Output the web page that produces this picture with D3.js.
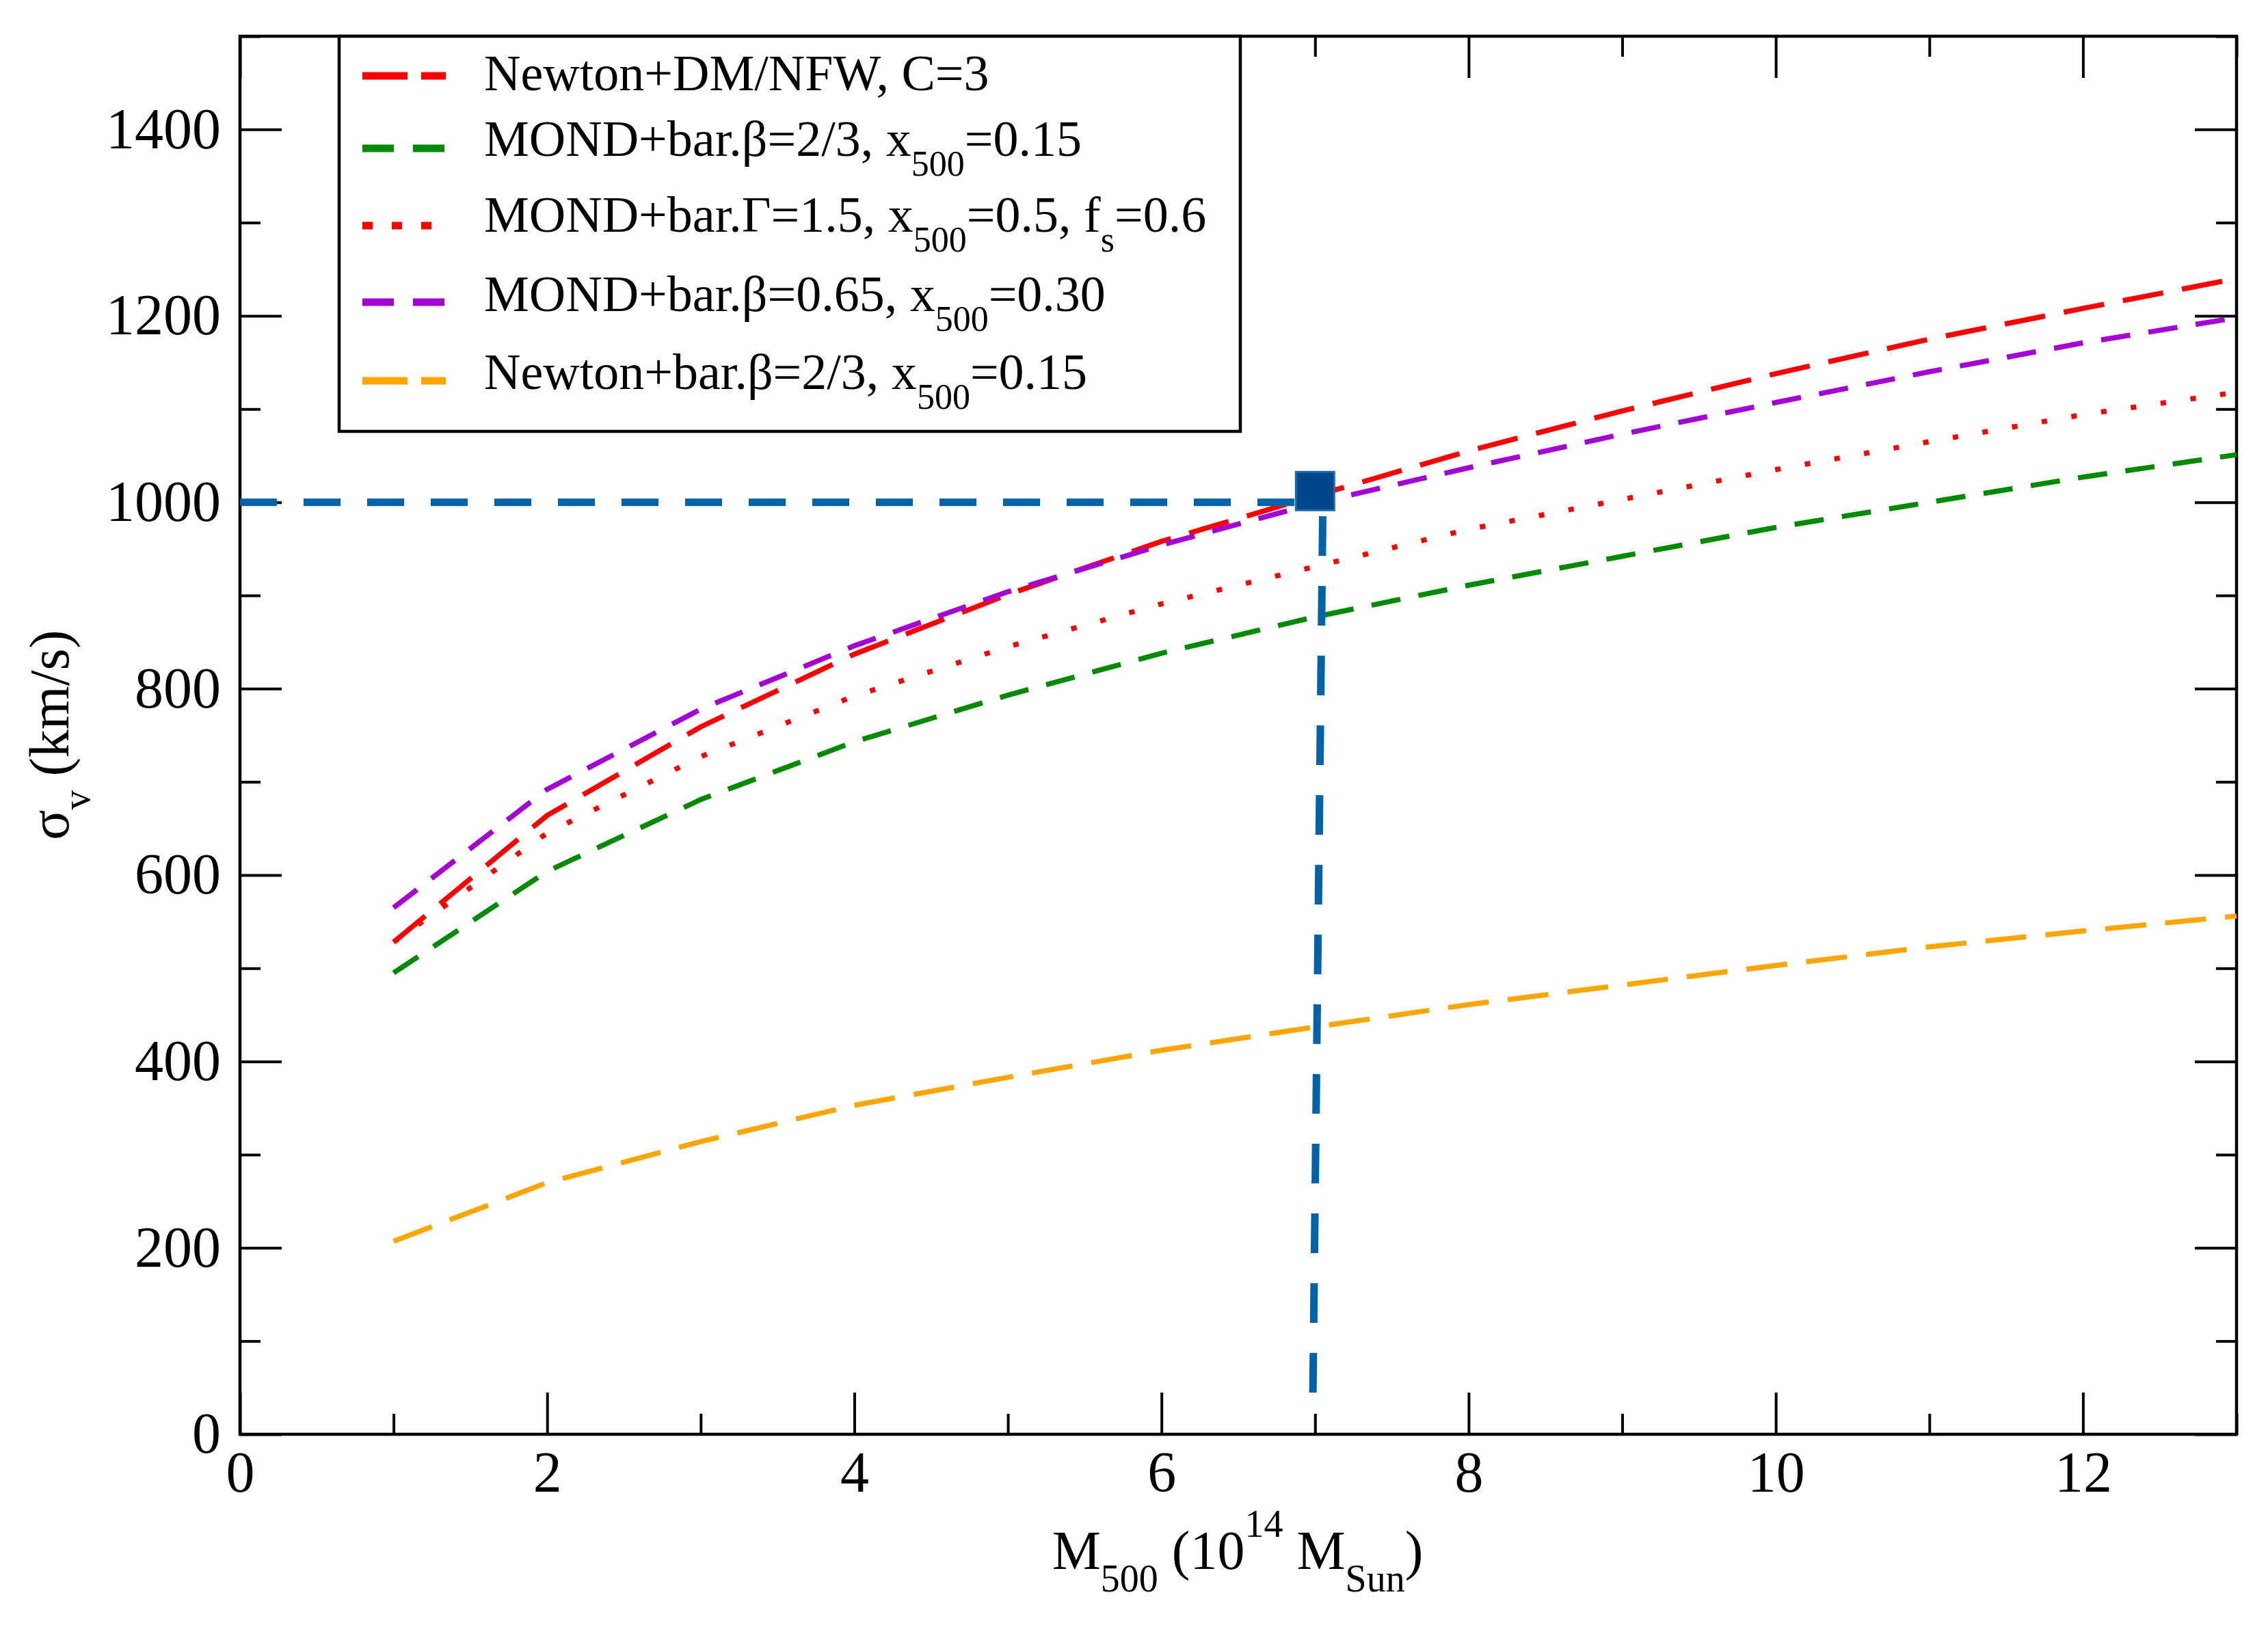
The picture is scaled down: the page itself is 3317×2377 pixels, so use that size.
<!DOCTYPE html>
<html>
<head>
<meta charset="utf-8">
<script src="https://cdn.jsdelivr.net/npm/d3@7"></script>
<style>
  body { margin: 0; background: #fff; }
  text { font-family: "Liberation Serif", "Times New Roman", serif; fill: #000; }
</style>
</head>
<body>
<div id="chart"></div>
<script>
// values, sigma_v (km/s) at each M500
var mass       = [1, 2, 3, 4, 5, 6, 7, 8, 9, 10, 11, 12, 13];
var newtonDM   = [528, 664, 759, 837, 901, 958, 1007, 1055, 1098, 1138, 1175, 1208, 1240];
var mondBeta23 = [495, 604, 681, 743, 793, 838, 877, 911, 942, 973, 1000, 1027, 1051];
var mondGamma  = [528, 645, 727, 792, 845, 891, 931, 971, 1003, 1035, 1065, 1094, 1118];
var mondBeta65 = [565, 692, 778, 846, 904, 954, 999, 1037, 1073, 1107, 1140, 1171, 1198];
var newtonBar  = [207, 270, 314, 353, 383, 412, 437, 461, 482, 503, 523, 540, 556];

var xTicks = [0, 2, 4, 6, 8, 10, 12];
var yTicks = [0, 200, 400, 600, 800, 1000, 1200, 1400];

// legend labels: [text, isSubscript]
var legendLabels = [
  [["Newton+DM/NFW, C=3", 0]],
  [["MOND+bar.\u03b2=2/3, x", 0], ["500", 1], ["=0.15", 0]],
  [["MOND+bar.\u0393=1.5, x", 0], ["500", 1], ["=0.5, f", 0], ["s", 1], ["=0.6", 0]],
  [["MOND+bar.\u03b2=0.65, x", 0], ["500", 1], ["=0.30", 0]],
  [["Newton+bar.\u03b2=2/3, x", 0], ["500", 1], ["=0.15", 0]]
];

// the highlighted cluster and its guide lines
var markM = 7, markSigma = 1012;
var hGuide = [[0, 1000], [6.9, 1000]];
var vGuide = [[7.05, 985], [6.985, 30]];

var W = 3317, H = 2377;
var svg = d3.select("#chart").append("svg")
  .attr("width", W)
  .attr("height", H);

var x = d3.scaleLinear().domain([0, 13]).range([351, 3271]);
var y = d3.scaleLinear().domain([0, 1500]).range([2098, 53]);

var series = [
  {vals: newtonDM,   color: "#ff0000", dash: "60,28", ldash: "66,20"},
  {vals: mondBeta23, color: "#008a00", dash: "43,27", ldash: "46,28"},
  {vals: mondGamma,  color: "#ff0000", dash: "8,36",  ldash: "15,28"},
  {vals: mondBeta65, color: "#a400d6", dash: "43,27", ldash: "46,28"},
  {vals: newtonBar,  color: "#ffa500", dash: "60,28", ldash: "66,20"}
];

// axes: ticks inward on all four sides, major every 2 / 200
var tickFont = 84;
function styleTicks(g, isMajor, sign, attr) {
  g.select(".domain").remove();
  g.selectAll(".tick line")
    .attr(attr, function(d){ return sign * (isMajor(d) ? 61 : 30); })
    .attr("stroke", "#000")
    .attr("stroke-width", 4);
  g.selectAll(".tick text")
    .attr("font-size", tickFont)
    .attr("font-family", "Liberation Serif, serif");
}
var xMajor = function(d){ return d % 2 === 0; };
var yMajor = function(d){ return d % 200 === 0; };

svg.append("g")
  .attr("transform", "translate(0,2098)")
  .call(d3.axisBottom(x).tickValues(d3.range(0, 14, 1)).tickSize(-61).tickPadding(24)
    .tickFormat(function(d){ return xTicks.indexOf(d) >= 0 ? d : ""; }))
  .call(styleTicks, xMajor, -1, "y2");

svg.append("g")
  .attr("transform", "translate(0,53)")
  .call(d3.axisTop(x).tickValues(d3.range(0, 14, 1)).tickSize(-61).tickFormat(""))
  .call(styleTicks, xMajor, 1, "y2");

svg.append("g")
  .attr("transform", "translate(351,0)")
  .call(d3.axisLeft(y).tickValues(d3.range(0, 1501, 100)).tickSize(-61).tickPadding(28)
    .tickFormat(function(d){ return yTicks.indexOf(d) >= 0 ? d : ""; }))
  .call(styleTicks, yMajor, 1, "x2");

svg.append("g")
  .attr("transform", "translate(3271,0)")
  .call(d3.axisRight(y).tickValues(d3.range(0, 1501, 100)).tickSize(-61).tickFormat(""))
  .call(styleTicks, yMajor, -1, "x2");

// frame
svg.append("rect")
  .attr("x", x(0)).attr("y", y(1500))
  .attr("width", x(13) - x(0)).attr("height", y(0) - y(1500))
  .attr("fill", "none").attr("stroke", "#000").attr("stroke-width", 4.5);

// curves
var line = d3.line()
  .x(function(d){ return x(d[0]); })
  .y(function(d){ return y(d[1]); });

svg.selectAll(".curve").data(series).enter().append("path")
  .attr("class", "curve")
  .attr("d", function(s){ return line(mass.map(function(m, i){ return [m, s.vals[i]]; })); })
  .attr("fill", "none")
  .attr("stroke", function(s){ return s.color; })
  .attr("stroke-width", 7.5)
  .attr("stroke-dasharray", function(s){ return s.dash; });

// guide lines and marker
svg.append("path")
  .attr("d", line(hGuide))
  .attr("fill", "none").attr("stroke", "#0062a8")
  .attr("stroke-width", 11).attr("stroke-dasharray", "54,39");
svg.append("path")
  .attr("d", line(vGuide))
  .attr("fill", "none").attr("stroke", "#0062a8")
  .attr("stroke-width", 11).attr("stroke-dasharray", "58,44");
svg.append("rect")
  .attr("x", x(markM) - 28).attr("y", y(markSigma) - 28)
  .attr("width", 56).attr("height", 56)
  .attr("fill", "#00468c").attr("stroke", "#1c6aab").attr("stroke-width", 3);

// rich text helper (subscripts / superscripts with dy)
function richText(sel, parts, size, subSize, subShift) {
  var level = 0;
  parts.forEach(function(p){
    var target = p[1] === 1 ? subShift : (p[1] === 2 ? -subShift * 1.42 : 0);
    sel.append("tspan")
      .attr("dy", target - level)
      .attr("font-size", p[1] ? subSize : size)
      .text(p[0]);
    level = target;
  });
}

// tick label and axis titles
var xTitle = svg.append("text")
  .attr("x", 1810).attr("y", 2295)
  .attr("text-anchor", "middle");
richText(xTitle, [["M", 0], ["500", 1], [" (10", 0], ["14", 2], [" M", 0], ["Sun", 1], [")", 0]], 80, 56, 33);

var yTitle = svg.append("text")
  .attr("transform", "translate(100,1075) rotate(-90)")
  .attr("text-anchor", "middle");
richText(yTitle, [["\u03c3", 0], ["v", 1], [" (km/s)", 0]], 82, 57, 31);

// legend
var lg = svg.append("g");
lg.append("rect")
  .attr("x", 496).attr("y", 53).attr("width", 1318).attr("height", 578)
  .attr("fill", "#fff").attr("stroke", "#000").attr("stroke-width", 4.5);

var rowBase = [132, 228, 339, 455, 569];
var rowLine = [111, 217, 330, 442, 557];
series.forEach(function(s, i){
  lg.append("line")
    .attr("x1", 530).attr("x2", 652)
    .attr("y1", rowLine[i]).attr("y2", rowLine[i])
    .attr("stroke", s.color).attr("stroke-width", 11)
    .attr("stroke-dasharray", s.ldash);
  var t = lg.append("text").attr("x", 708).attr("y", rowBase[i]);
  richText(t, legendLabels[i], 74, 52, 29);
});
</script>
</body>
</html>
